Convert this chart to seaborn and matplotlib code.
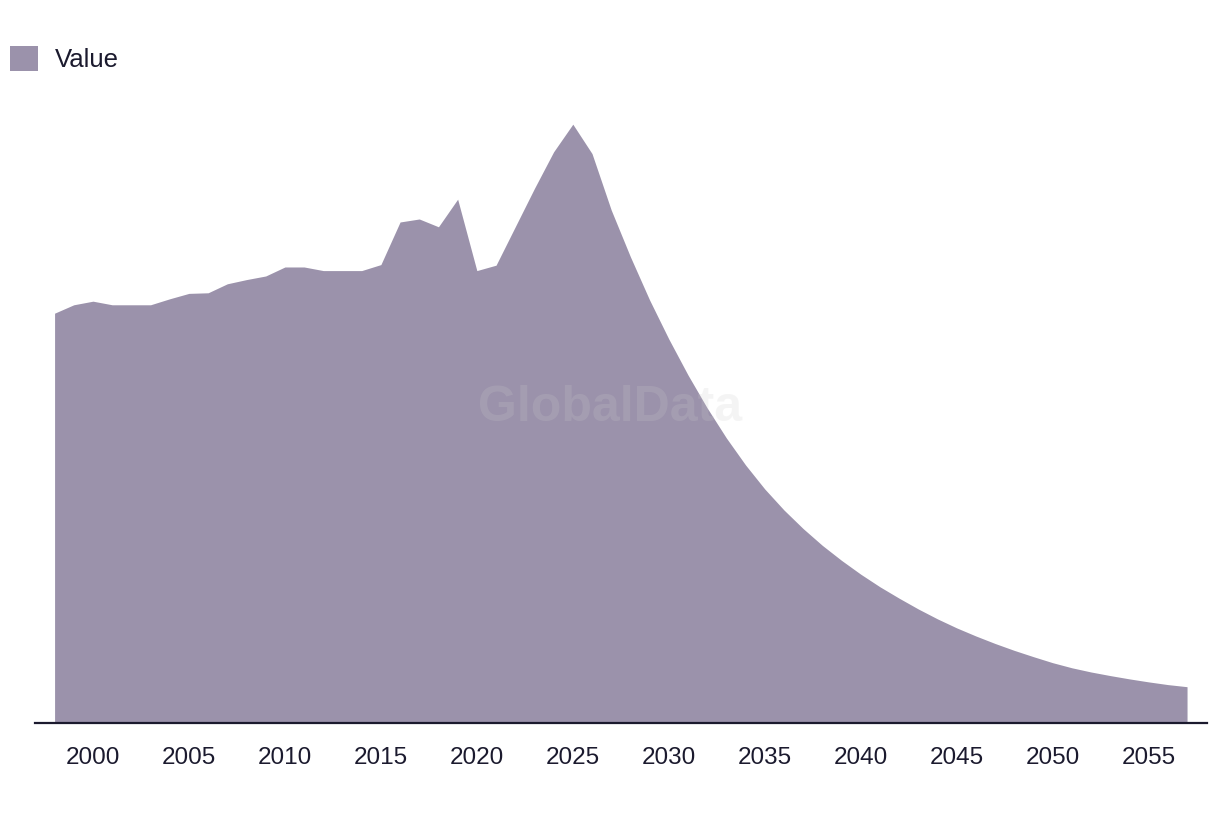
import matplotlib
matplotlib.use("Agg")
import matplotlib.pyplot as plt
from matplotlib.patches import Patch
import seaborn as sns
import pandas as pd

years = list(range(1998, 2058))
values = [68.3, 69.7, 70.3, 69.7, 69.7, 69.7, 70.7, 71.6, 71.7, 73.2,
          73.9, 74.5, 76.0, 76.0, 75.4, 75.4, 75.4, 76.4, 83.5, 84.0,
          82.7, 87.3, 75.4, 76.3, 82.7, 89.1, 95.2, 99.8, 94.9, 85.5,
          77.7, 70.5, 64.0, 58.0, 52.5, 47.5, 43.0, 39.0, 35.5, 32.4,
          29.6, 27.1, 24.8, 22.7, 20.8, 19.0, 17.35, 15.85, 14.5, 13.25,
          12.1, 11.05, 10.05, 9.2, 8.5, 7.9, 7.35, 6.85, 6.4, 6.05]
tick_years = [2000, 2005, 2010, 2015, 2020, 2025, 2030, 2035, 2040, 2045, 2050, 2055]
series_name = "Value"
watermark = "GlobalData"

fill_color = "#9b92ab"
text_color = "#1b1a2e"

sns.set_theme(style="white")
plt.rcParams["font.family"] = ["Liberation Sans", "DejaVu Sans"]

df = pd.DataFrame({"Year": years, "Value": values})

fig = plt.figure(figsize=(12.2, 8.14), dpi=100)
ax = fig.add_axes([35 / 1220, 1 - 723 / 814, (1207 - 35) / 1220, (723 - 100) / 814])

sns.lineplot(data=df, x="Year", y="Value", ax=ax, color=fill_color, linewidth=0)
ax.fill_between(df["Year"], 0, df["Value"], color=fill_color, linewidth=0)

ax.set_xlim(1996.98, 2058.04)
ax.set_ylim(0, 103.83)
ax.set_xticks(tick_years)
ax.set_xticklabels([str(t) for t in tick_years])
ax.set_yticks([])
ax.set_xlabel("")
ax.set_ylabel("")
for s in ["top", "right", "left"]:
    ax.spines[s].set_visible(False)
ax.spines["bottom"].set_color(text_color)
ax.spines["bottom"].set_linewidth(1.6)
ax.tick_params(axis="x", length=0, pad=17, labelsize=17.5, labelcolor=text_color)

ax.text((610 - 35) / 1172, (723 - 408) / 623, watermark, transform=ax.transAxes,
        ha="center", va="center", fontsize=36, fontweight="bold",
        color="#cccccc", alpha=0.2, zorder=5)

handle = Patch(facecolor=fill_color, edgecolor="none", label=series_name)
fig.legend(handles=[handle], loc="center left",
           bbox_to_anchor=(10 / 1220, 1 - 59 / 814), frameon=False,
           borderpad=0, borderaxespad=0, handlelength=1.09, handleheight=1.09,
           handletextpad=0.66, fontsize=18.5, labelcolor=text_color)

fig.savefig("out.png", dpi=100)
